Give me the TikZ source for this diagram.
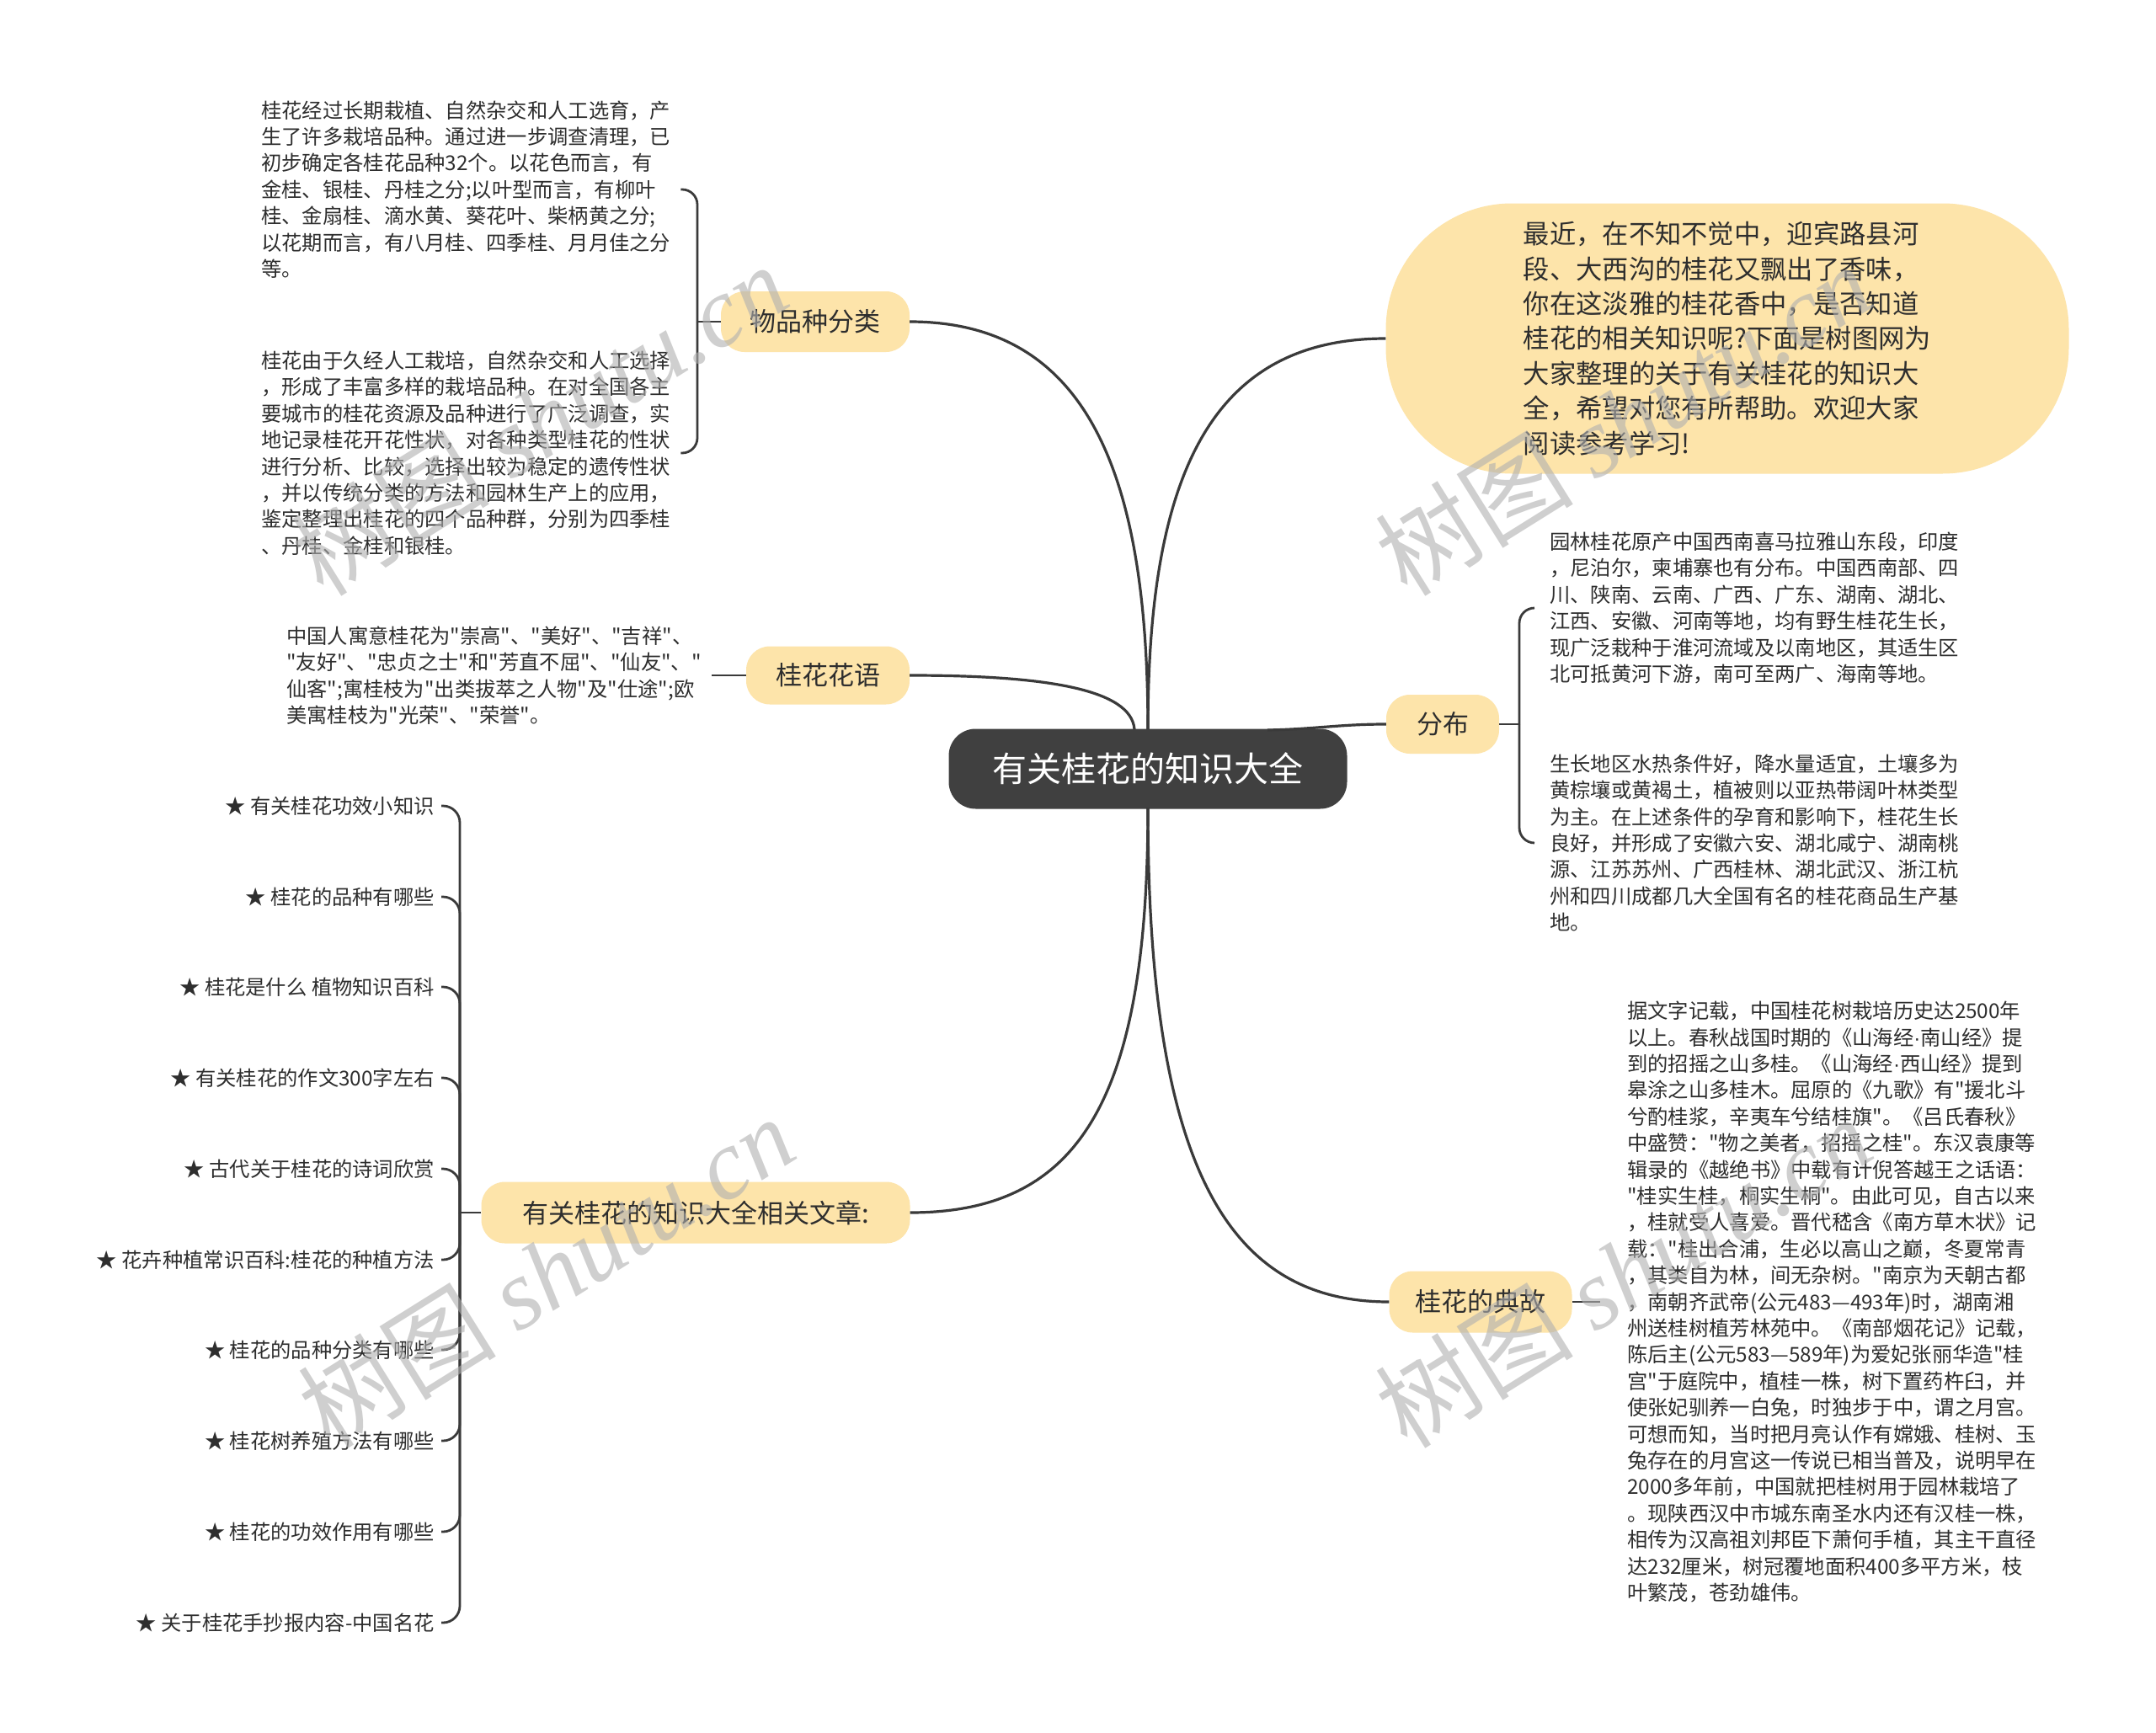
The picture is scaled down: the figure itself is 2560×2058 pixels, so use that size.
\documentclass[tikz,border=0pt]{standalone}
\usepackage{fontspec}
\newfontfamily\cjk{Noto Sans CJK SC}
\newfontfamily\latinsans{Liberation Sans}
\newfontfamily\wmlatin{Liberation Serif}
\usetikzlibrary{calc}
\definecolor{ink}{HTML}{2E2E2E}
\definecolor{lineclr}{HTML}{3A3A3A}
\definecolor{topicfill}{HTML}{FDE4AA}
\definecolor{rootfill}{HTML}{404040}
\definecolor{wmgray}{HTML}{B0B0B0}
\newcommand{\mdot}{{\latinsans ·}}
\begin{document}
\begin{tikzpicture}[x=1pt,y=-1pt,
  root/.style={fill=rootfill, text=white, rounded corners=32, minimum width=473, minimum height=95, inner sep=0pt, font=\cjk\fontsize{41}{48}\selectfont},
  topic/.style={fill=topicfill, text=ink, rounded corners=28, inner sep=0pt, font=\cjk\fontsize{31}{38}\selectfont},
  txt/.style={text=ink, align=left, inner sep=0pt, font=\cjk\fontsize{24.3}{31.4}\selectfont},
  item/.style={text=ink, inner sep=0pt, anchor=east, font=\cjk\fontsize{24.3}{30}\selectfont},
  branch/.style={draw=lineclr, line width=3.2},
  sub/.style={draw=lineclr, line width=2.8},
  wm/.style={text=wmgray, opacity=0.6, inner sep=0pt, font=\cjk\fontsize{118}{130}\selectfont}
]
\useasboundingbox[fill=white] (0,0) rectangle (2560,2058);

\coordinate (rootN) at (1363,866);
\coordinate (rootS) at (1363,959);
\coordinate (rootNR) at (1505,867);
\coordinate (rootNL) at (1347,866);

% ---------- root
\node[root] (root) at (1363,913) {有关桂花的知识大全};

% ---------- topics
\node[topic, minimum width=224, minimum height=72] (pz) at (968,382) {物品种分类};
\node[topic, minimum width=194, minimum height=69] (hy) at (983,802) {桂花花语};
\node[topic, minimum width=509, minimum height=73] (rel) at (826,1440) {有关桂花的知识大全相关文章:};
\node[topic, minimum width=134, minimum height=70] (fb) at (1713,860) {分布};
\node[topic, minimum width=217, minimum height=73] (dg) at (1758,1546) {桂花的典故};
\node[topic, minimum width=811, minimum height=321, rounded corners=150, align=left, font=\cjk\fontsize{31.3}{41.4}\selectfont] (intro) at (2051,402) {最近，在不知不觉中，迎宾路县河\\段、大西沟的桂花又飘出了香味，\\你在这淡雅的桂花香中，是否知道\\桂花的相关知识呢?下面是树图网为\\大家整理的关于有关桂花的知识大\\全，希望对您有所帮助。欢迎大家\\阅读参考学习!};

% branches
\draw[branch] (pz.east) .. controls (1290,382) and (1363,560) .. (rootN);
\draw[branch] (rootN) .. controls (1363,560) and (1440,402) .. (intro.west);
\draw[branch] (hy.east) .. controls (1240,802) and (1343,818) .. (rootNL);
\draw[branch] (fb.west) .. controls (1590,860) and (1560,866) .. (rootNR);
\draw[branch] (rootS) .. controls (1363,1310) and (1280,1440) .. (rel.east);
\draw[branch] (rootS) .. controls (1363,1390) and (1460,1546) .. (dg.west);

% ---------- text leaves
\node[txt, anchor=west] (t1) at (310,225) {桂花经过长期栽植、自然杂交和人工选育，产\\生了许多栽培品种。通过进一步调查清理，已\\初步确定各桂花品种32个。以花色而言，有\\金桂、银桂、丹桂之分;以叶型而言，有柳叶\\桂、金扇桂、滴水黄、葵花叶、柴柄黄之分;\\以花期而言，有八月桂、四季桂、月月佳之分\\等。};
\node[txt, anchor=west] (t2) at (310,538) {桂花由于久经人工栽培，自然杂交和人工选择\\，形成了丰富多样的栽培品种。在对全国各主\\要城市的桂花资源及品种进行了广泛调查，实\\地记录桂花开花性状，对各种类型桂花的性状\\进行分析、比较，选择出较为稳定的遗传性状\\，并以传统分类的方法和园林生产上的应用，\\鉴定整理出桂花的四个品种群，分别为四季桂\\、丹桂、金桂和银桂。};
\node[txt, anchor=west] (t6) at (340,802) {中国人寓意桂花为"崇高"、"美好"、"吉祥"、\\"友好"、"忠贞之士"和"芳直不屈"、"仙友"、"\\仙客";寓桂枝为"出类拔萃之人物"及"仕途";欧\\美寓桂枝为"光荣"、"荣誉"。};
\node[txt, anchor=west] (t3) at (1840,722) {园林桂花原产中国西南喜马拉雅山东段，印度\\，尼泊尔，柬埔寨也有分布。中国西南部、四\\川、陕南、云南、广西、广东、湖南、湖北、\\江西、安徽、河南等地，均有野生桂花生长，\\现广泛栽种于淮河流域及以南地区，其适生区\\北可抵黄河下游，南可至两广、海南等地。};
\node[txt, anchor=west] (t4) at (1840,1001) {生长地区水热条件好，降水量适宜，土壤多为\\黄棕壤或黄褐土，植被则以亚热带阔叶林类型\\为主。在上述条件的孕育和影响下，桂花生长\\良好，并形成了安徽六安、湖北咸宁、湖南桃\\源、江苏苏州、广西桂林、湖北武汉、浙江杭\\州和四川成都几大全国有名的桂花商品生产基\\地。};
\node[txt, anchor=west] (t5) at (1932,1546) {据文字记载，中国桂花树栽培历史达2500年\\以上。春秋战国时期的《山海经\mdot 南山经》提\\到的招摇之山多桂。《山海经\mdot 西山经》提到\\皋涂之山多桂木。屈原的《九歌》有"援北斗\\兮酌桂浆，辛夷车兮结桂旗"。《吕氏春秋》\\中盛赞："物之美者，招摇之桂"。东汉袁康等\\辑录的《越绝书》中载有计倪答越王之话语：\\"桂实生桂，桐实生桐"。由此可见，自古以来\\，桂就受人喜爱。晋代嵇含《南方草木状》记\\载："桂出合浦，生必以高山之巅，冬夏常青\\，其类自为林，间无杂树。"南京为天朝古都\\，南朝齐武帝(公元483—493年)时，湖南湘\\州送桂树植芳林苑中。《南部烟花记》记载，\\陈后主(公元583—589年)为爱妃张丽华造"桂\\宫"于庭院中，植桂一株，树下置药杵臼，并\\使张妃驯养一白兔，时独步于中，谓之月宫。\\可想而知，当时把月亮认作有嫦娥、桂树、玉\\兔存在的月宫这一传说已相当普及，说明早在\\2000多年前，中国就把桂树用于园林栽培了\\。现陕西汉中市城东南圣水内还有汉桂一株，\\相传为汉高祖刘邦臣下萧何手植，其主干直径\\达232厘米，树冠覆地面积400多平方米，枝\\叶繁茂，苍劲雄伟。};

% ---------- items
\node[item] (i1) at (516,957) {★ 有关桂花功效小知识};
\node[item] (i2) at (516,1065) {★ 桂花的品种有哪些};
\node[item] (i3) at (516,1172) {★ 桂花是什么 植物知识百科};
\node[item] (i4) at (516,1280) {★ 有关桂花的作文300字左右};
\node[item] (i5) at (516,1388) {★ 古代关于桂花的诗词欣赏};
\node[item] (i6) at (516,1496) {★ 花卉种植常识百科:桂花的种植方法};
\node[item] (i7) at (516,1603) {★ 桂花的品种分类有哪些};
\node[item] (i8) at (516,1711) {★ 桂花树养殖方法有哪些};
\node[item] (i9) at (516,1819) {★ 桂花的功效作用有哪些};
\node[item] (i10) at (516,1927) {★ 关于桂花手抄报内容-中国名花};

% ---------- sub connectors
\coordinate (pzb) at (828,382);
\draw[sub] (pz.west) -- (pzb);
\draw[sub, rounded corners=18] ([xshift=12]t1.east) -| (pzb);
\draw[sub, rounded corners=18] ([xshift=12]t2.east) -| (pzb);

\draw[sub] (hy.west) -- ([xshift=12]t6.east);

\coordinate (fbb) at (1804,860);
\draw[sub] (fb.east) -- (fbb);
\draw[sub, rounded corners=18] ([xshift=-18]t3.west) -| (fbb);
\draw[sub, rounded corners=18] ([xshift=-18]t4.west) -| (fbb);

\draw[sub] (dg.east) -- ([xshift=-32]t5.west);

\coordinate (relb) at (546,1440);
\draw[sub] (rel.west) -- (relb);
\foreach \k in {1,...,10}{
  \draw[sub, rounded corners=20] ([xshift=8]i\k.east) -| (relb);
}

% ---------- watermarks
\node[wm, rotate=32] (w1) at (640,498) {树图 {\wmlatin\itshape shutu.cn}};
\node[wm, rotate=32] (w2) at (1927,498) {树图 {\wmlatin\itshape shutu.cn}};
\node[wm, rotate=32] (w3) at (648,1510) {树图 {\wmlatin\itshape shutu.cn}};
\node[wm, rotate=32] (w4) at (1927,1510) {树图 {\wmlatin\itshape shutu.cn}};
\end{tikzpicture}
\end{document}
